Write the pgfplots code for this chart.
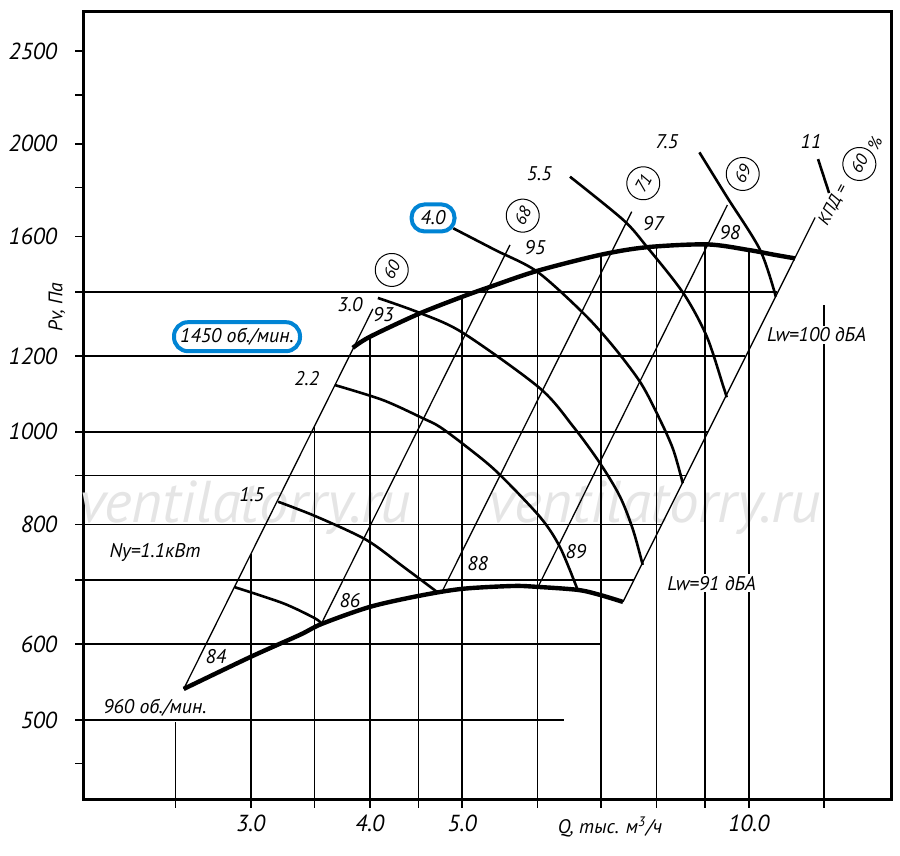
\documentclass[border=0pt]{standalone}
\usepackage{fontspec}
\setmainfont{PT Sans}
\usepackage{pgfplots}
\pgfplotsset{compat=1.18}
\definecolor{boxblue}{RGB}{0,132,212}
\newcommand{\lf}{\fontsize{9.9}{11}\selectfont\itshape}
\newcommand{\cf}{\fontsize{8.5}{10}\selectfont\itshape}
\begin{document}
\begin{tikzpicture}
\useasboundingbox (-41.5pt,-28pt) rectangle (408.5pt,400pt);
\begin{axis}[
  at={(0pt,0pt)}, anchor=south west,
  scale only axis, width=404pt, height=394pt,
  xmode=log, ymode=log,
  xmin=2.0, xmax=14.1, ymin=412.4, ymax=2747,
  clip=false,
  axis line style={line width=1.5pt},
  tick align=outside, tick pos=left,
  major tick length=4pt,
  every tick/.style={black, line width=0.8pt},
  xtick={2.5,3,3.5,4,4.5,5,6,7,8,9,10,12},
  xticklabels={,\textit{3.0},,\textit{4.0},,\textit{5.0},,,,,\textit{10.0},},
  ytick={450,500,600,700,800,900,1000,1200,1400,1600,1800,2000,2250,2500},
  yticklabels={,\textit{500},\textit{600},,\textit{800},,\textit{1000},\textit{1200},,\textit{1600},,\textit{2000},,\textit{2500}},
  minor xtick={}, minor ytick={},
  xticklabel style={font=\fontsize{11.6}{13}\selectfont\itshape},
  yticklabel style={font=\fontsize{11.6}{13}\selectfont\itshape, xshift=-5.5pt},
  grd/.style={line width=0.8pt, black},
  ray/.style={line width=0.65pt, black},
  pw/.style={line width=1.3pt, black, smooth},
  sys/.style={line width=2.2pt, black, smooth},
]
% watermarks
\node[font=\fontsize{29.5}{32}\selectfont\itshape, text=gray!20] at (rel axis cs:0.2005,0.3706) {ventilatorry.ru};
\node[font=\fontsize{29.5}{32}\selectfont\itshape, text=gray!20] at (rel axis cs:0.7079,0.3706) {ventilatorry.ru};

% horizontal grid lines (end on the right boundary line)
\addplot[grd] coordinates {(2.0,500) (6.401,500)};
\addplot[grd] coordinates {(2.0,600) (7.012,600)};
\addplot[grd] coordinates {(2.0,700) (7.574,700)};
\addplot[grd] coordinates {(2.0,800) (8.097,800)};
\addplot[grd] coordinates {(2.0,900) (8.588,900)};
\addplot[grd] coordinates {(2.0,1000) (9.053,1000)};
\addplot[grd] coordinates {(2.0,1200) (9.917,1200)};
\addplot[grd] coordinates {(2.0,1400) (10.712,1400)};
% vertical grid lines
\addplot[grd] coordinates {(2.5,412.4) (2.5,497)};
\addplot[grd] coordinates {(3.0,412.4) (3.0,745)};
\addplot[grd] coordinates {(3.5,412.4) (3.5,1014)};
\addplot[grd] coordinates {(4.0,412.4) (4.0,1257)};
\addplot[grd] coordinates {(4.5,412.4) (4.5,1328)};
\addplot[grd] coordinates {(5.0,412.4) (5.0,1384)};
\addplot[grd] coordinates {(6.0,412.4) (6.0,1473)};
\addplot[grd] coordinates {(7.0,412.4) (7.0,1531)};
\addplot[grd] coordinates {(8.0,412.4) (8.0,1559)};
\addplot[grd] coordinates {(9.0,412.4) (9.0,1570)};
\addplot[grd] coordinates {(10.0,412.4) (10.0,1549)};
\addplot[grd] coordinates {(12.0,412.4) (12.0,1357)};

% constant-efficiency rays
\addplot[ray] coordinates {(2.551,538.7) (4.030,1344.4)};
\addplot[ray] coordinates {(3.562,631.5) (5.613,1568)};
\addplot[ray] coordinates {(4.762,680.4) (7.535,1698.9)};
\addplot[ray] coordinates {(6.008,688.6) (9.494,1726.5)};
\addplot[ray] coordinates {(7.378,664.2) (11.737,1675)};

% power curves
\addplot[pw] coordinates {(2.886,688.2) (3.244,662.1) (3.502,638.7) (3.562,630.0)};
\addplot[pw] coordinates {(3.205,845.3) (3.517,815.5) (3.969,771.0) (4.336,723.1) (4.701,680.9)};
\addplot[pw] coordinates {(3.675,1119.4) (4.128,1079.6) (4.548,1033.3) (4.739,1011.9) (5.058,964.3) (5.440,908.0) (6.036,814.9) (6.334,758.1) (6.601,686.5)};
\addplot[pw] coordinates {(4.079,1380.4) (4.512,1331.7) (5.009,1269.2) (6.031,1111.3) (6.542,1012.6) (6.979,927.3) (7.325,855.6) (7.559,789.8) (7.738,726.1)};
\addplot[pw] coordinates {(4.894,1632.3) (5.414,1549.5) (5.994,1470.6) (6.702,1330.7) (7.207,1228.0) (7.706,1124.0) (8.069,1029.1) (8.332,957.4) (8.524,883.7)};
\addplot[pw] coordinates {(6.49,1848.0) (7.383,1665.3) (7.813,1561.9) (8.536,1396.1) (9.033,1257.9) (9.403,1114.9) (9.480,1086.8)};
\addplot[pw] coordinates {(8.873,1959.6) (9.480,1761.3) (10.275,1549.5) (10.673,1384.7)};
\addplot[pw] coordinates {(11.82,1928.3) (12.14,1777.0)};

% fan curves at 960 and 1450 rpm
\addplot[sys] coordinates {(2.551,538.7) (3.0,582.0) (3.378,613.6) (3.562,630.0) (4.0,656.3) (4.502,673.9) (4.997,685.4) (5.654,690.2) (6.008,688.6) (6.617,683.7) (6.979,675.5) (7.378,664.2)};
\addplot[sys] coordinates {(3.839,1224.2) (4.0,1257.0) (4.502,1328.4) (4.997,1383.7) (5.348,1417.5) (5.994,1473.1) (6.979,1530.9) (7.813,1559.6) (9.039,1570.2) (9.981,1549.5) (10.655,1530.9) (11.183,1518.2)};

% labels
\node[font=\lf] at (rel axis cs:0.2088,0.3871) {1.5};
\node[font=\lf] at (rel axis cs:0.2769,0.5352) {2.2};
\node[font=\lf] at (rel axis cs:0.3304,0.6282) {3.0};
\node[font=\lf] at (rel axis cs:0.3717,0.6155) {93};
\node[font=\lf] at (rel axis cs:0.5594,0.7009) {95};
\node[font=\lf] at (rel axis cs:0.5647,0.7944) {5.5};
\node[font=\lf] at (rel axis cs:0.7058,0.7319) {97};
\node[font=\lf] at (rel axis cs:0.7224,0.8354) {7.5};
\node[font=\lf] at (rel axis cs:0.8007,0.7199) {98};
\node[font=\lf] at (rel axis cs:0.9010,0.8354) {11};
\node[font=\lf] at (rel axis cs:0.4885,0.3004) {88};
\node[font=\lf] at (rel axis cs:0.6101,0.3151) {89};
\node[font=\lf] at (rel axis cs:0.3304,0.2529) {86};
\node[font=\lf] at (rel axis cs:0.1646,0.1819) {84};
\node[font=\lf] at (rel axis cs:0.0891,0.1171) {960 об./мин.};
\node[font=\lf] at (rel axis cs:0.0891,0.3135) {Ny=1.1кВт};
\node[font=\lf, fill=white, inner sep=1pt] at (rel axis cs:0.9080,0.5901) {Lw=100 дБА};
\node[font=\lf, fill=white, inner sep=1pt] at (rel axis cs:0.7781,0.2750) {Lw=91 дБА};
\node[font=\lf, draw=boxblue, line width=2pt, rounded corners=6.5pt, fill=white, minimum width=21.5pt, minimum height=13.5pt, inner sep=1pt] at (rel axis cs:0.4332,0.7386) {4.0};
\node[font=\lf, draw=boxblue, line width=2pt, rounded corners=7pt, fill=white, minimum width=63pt, minimum height=14.5pt, inner sep=1pt] at (rel axis cs:0.1906,0.5879) {1450 об./мин.};
% efficiency circles
\node[font=\cf, draw, circle, line width=0.5pt, minimum size=16.5pt, inner sep=0pt, rotate=62] at (rel axis cs:0.3821,0.6726) {60};
\node[font=\cf, draw, circle, line width=0.5pt, minimum size=16.5pt, inner sep=0pt, rotate=62] at (rel axis cs:0.5442,0.7415) {68};
\node[font=\cf, draw, circle, line width=0.5pt, minimum size=16.5pt, inner sep=0pt, rotate=62] at (rel axis cs:0.6934,0.7826) {71};
\node[font=\cf, draw, circle, line width=0.5pt, minimum size=16.5pt, inner sep=0pt, rotate=62] at (rel axis cs:0.8165,0.7944) {69};
\node[font=\cf, draw, circle, line width=0.5pt, minimum size=16.5pt, inner sep=0pt, rotate=62] at (rel axis cs:0.9608,0.8071) {60};
\node[font=\cf, rotate=62] at (rel axis cs:0.9286,0.7551) {КПД =};
\node[font=\cf, rotate=62] at (rel axis cs:0.9802,0.8334) {\%};
% axis labels
\node[font=\fontsize{9.8}{11}\selectfont\itshape, rotate=90] at (rel axis cs:-0.0322,0.6256) {Pv, Па};
\node[font=\fontsize{9.8}{11}\selectfont\itshape] at (rel axis cs:0.6522,-0.0343) {Q, тыс. м\textsuperscript{3}/ч};
\end{axis}
\end{tikzpicture}
\end{document}
